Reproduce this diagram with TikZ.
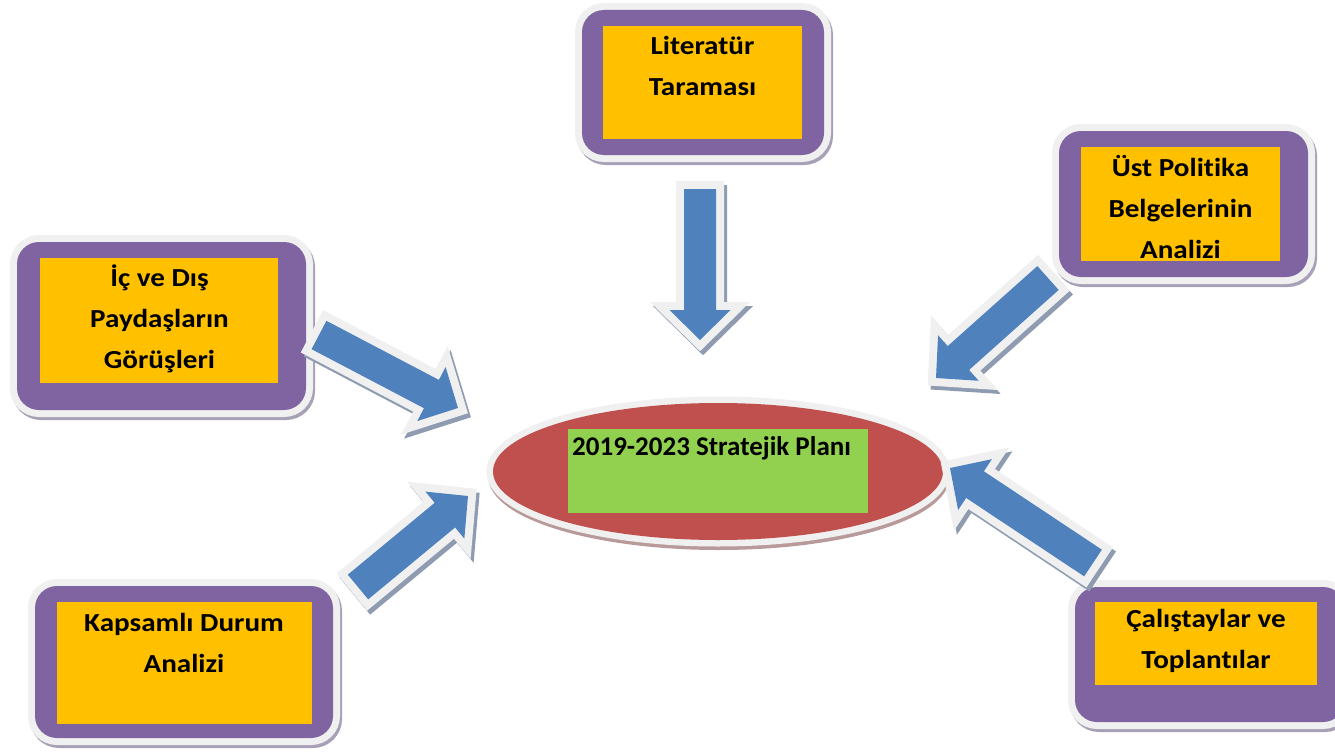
\documentclass[tikz,border=0pt]{standalone}
\usepackage{fontspec}
\setmainfont{Carlito}[Ligatures=NoCommon]
\newfontfamily\boxfont{Carlito}[Ligatures=NoCommon, FakeStretch=1.12]
\usetikzlibrary{calc,shapes.geometric}
\definecolor{purp}{HTML}{8064A2}
\definecolor{orng}{HTML}{FFC000}
\definecolor{blu}{HTML}{4F81BD}
\definecolor{redd}{HTML}{C0504D}
\definecolor{grn}{HTML}{92D050}
\definecolor{framec}{HTML}{F0F0F0}
\definecolor{ashad}{HTML}{8E9BB0}
\definecolor{bshad}{HTML}{A7A0B6}
\definecolor{eshad}{HTML}{B99A9A}
\def\sw{16pt}
\def\hw{30.5pt}
\def\hl{30pt}
\newcommand\blockarrow[2]{%
  \path coordinate (bb) at ($(#2)!\hl!(#1)$)
        coordinate (t1) at ($(#1)!\sw!90:(#2)$)
        coordinate (t2) at ($(#1)!\sw!-90:(#2)$)
        coordinate (b1) at ($(bb)!\sw!90:(#2)$)
        coordinate (b2) at ($(bb)!\sw!-90:(#2)$)
        coordinate (h1) at ($(bb)!\hw!90:(#2)$)
        coordinate (h2) at ($(bb)!\hw!-90:(#2)$);
  \begin{scope}[transform canvas={shift={(3pt,-4pt)}}]
    \draw[arrshadow] (t1) -- (b1) -- (h1) -- (#2) -- (h2) -- (b2) -- (t2) -- cycle;
  \end{scope}
  \draw[arrframe] (t1) -- (b1) -- (h1) -- (#2) -- (h2) -- (b2) -- (t2) -- cycle;
  \fill[blu] (t1) -- (b1) -- (h1) -- (#2) -- (h2) -- (b2) -- (t2) -- cycle;
}
\begin{document}
\begin{tikzpicture}[x=1pt,y=-1pt,
  arrshadow/.style={draw=ashad, fill=ashad, line width=16pt, line join=miter},
  arrframe/.style={draw=framec, fill=framec, line width=16pt, line join=miter},
  pbox/.style={rounded corners=22pt, fill=purp, inner sep=0pt,
    preaction={draw=bshad, line width=14pt, transform canvas={shift={(2pt,-3pt)}}},
    preaction={draw=framec, line width=14pt}},
  obox/.style={fill=orng, inner sep=0pt},
  txt/.style={font=\boxfont\bfseries\fontsize{26}{41}\selectfont, align=center, inner sep=0pt},
  ptxt/.style={font=\bfseries\fontsize{27}{31}\selectfont, inner sep=0pt, anchor=base west}
]
\useasboundingbox (0,0) rectangle (1335,752);

% boxes
\node[pbox, minimum width=242pt, minimum height=145pt] (litP) at (703,82.5) {};
\node[obox, minimum width=199pt, minimum height=113pt] (litO) at (702.5,82.5) {};
\node[txt] (litT) at (702.5,65.5) {Literatür\\Taraması};

\node[pbox, minimum width=249pt, minimum height=146pt] (ustP) at (1183.5,204) {};
\node[obox, minimum width=199pt, minimum height=114pt] (ustO) at (1180.5,204) {};
\node[txt] (ustT) at (1180.5,207.5) {Üst Politika\\Belgelerinin\\Analizi};

\node[pbox, minimum width=289pt, minimum height=168pt] (icP) at (161.5,326) {};
\node[obox, minimum width=238pt, minimum height=125pt] (icO) at (159,320.5) {};
\node[txt] (icT) at (159.5,318.5) {İç ve Dış\\Paydaşların\\Görüşleri};

\node[pbox, minimum width=298pt, minimum height=152pt] (kapP) at (184,662) {};
\node[obox, minimum width=255pt, minimum height=122pt] (kapO) at (184.5,663) {};
\node[txt] (kapT) at (184,643) {Kapsamlı Durum\\Analizi};

\node[pbox, minimum width=270pt, minimum height=135pt] (calP) at (1210,654.5) {};
\node[obox, minimum width=222pt, minimum height=83pt] (calO) at (1206,643.5) {};
\node[txt] (calT) at (1206,641) {Çalıştaylar ve\\Toplantılar};

% central ellipse
\node[ellipse, inner sep=0pt, fill=redd, minimum width=450pt, minimum height=137pt,
  preaction={draw=eshad, line width=12pt, transform canvas={shift={(1pt,-4pt)}}},
  preaction={draw=framec, line width=13pt}] (plan) at (718,471.5) {};
\node[fill=grn, inner sep=0pt, minimum width=300pt, minimum height=84pt] (planG) at (718,471) {};
\node[ptxt] (planT) at (572,455) {2019-2023 Stratejik Planı};

% arrows
\coordinate (a1s) at (700,189); \coordinate (a1e) at (700,340);
\coordinate (a2s) at (319,335); \coordinate (a2e) at (458,408);
\coordinate (a3s) at (1048,278); \coordinate (a3e) at (936,378);
\coordinate (a4s) at (358,587); \coordinate (a4e) at (468,496);
\coordinate (a5s) at (1093,563); \coordinate (a5e) at (950,468);
\blockarrow{a1s}{a1e}
\blockarrow{a2s}{a2e}
\blockarrow{a3s}{a3e}
\blockarrow{a4s}{a4e}
\blockarrow{a5s}{a5e}
\end{tikzpicture}
\end{document}
